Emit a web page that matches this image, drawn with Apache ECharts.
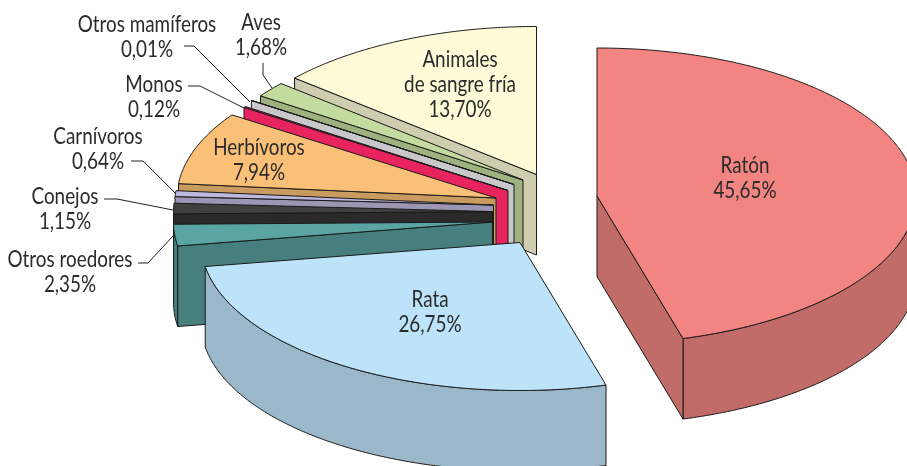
<!DOCTYPE html>
<html>
<head>
<meta charset="utf-8">
<style>html,body{margin:0;padding:0;background:#fff}#chart{width:907px;height:466px}</style>
<script src="https://cdn.jsdelivr.net/npm/echarts@6/dist/echarts.min.js"></script>
</head>
<body>
<div id="chart"></div>
<script>
// Share of animals by group, clockwise from 12 o'clock
const categories = ['Ratón', 'Rata', 'Otros roedores', 'Conejos', 'Carnívoros', 'Herbívoros', 'Monos', 'Otros mamíferos', 'Aves', 'Animales\nde sangre fría'];
const shares = [45.65, 26.75, 2.35, 1.15, 0.64, 7.94, 0.12, 0.01, 1.68, 13.70];

// Fill colours of the top and the walls of each wedge
const topColors = ['#F28482', '#BDE3FA', '#59A5A3', '#404040', '#BDB8DE', '#FBC077', '#E8245F', '#C8C8CB', '#C3DB9E', '#FFFAD7'];
const wallColors = ['#C16C68', '#9BB8CB', '#467F7E', '#2A2A2A', '#9C95B4', '#C99B5E', '#E8245F', '#C8C8CB', '#9EB27F', '#CFCCAF'];

// Exploded wedge apexes, painting rank (back to front) and label anchors
const apexes = [[597, 196], [520, 242.5], [492.5, 222], [492.5, 211.6], [493.5, 205], [496, 198], [508, 190.5], [514, 184.5], [523, 180], [536.5, 174.5]];
const paintRank = [9, 8, 7, 6, 5, 4, 3, 2, 1, 0];
const labelAnchors = [[745, 178], [430, 312], [70, 272], [65, 209], [98, 149], [259, 160], [154, 97], [147, 37], [261, 35], [460, 85]];
const leaders = [null, null,
  [[138, 263], [148, 263], [173, 236]],
  [[104, 199], [117, 199], [173, 210]],
  [[131, 161], [143, 161], [175, 193]],
  null,
  [[188, 86], [200, 86], [244, 108]],
  [[184, 46], [194, 46], [250, 102]],
  [[263, 63], [263, 75], [272, 88]],
  null];

const RX = 319, RY = 148, DEPTH = 80.5;
const total = shares.reduce((a, b) => a + b, 0);
const INK = '#1a1a1a';

function rim(c, deg, drop) {
  const r = deg * Math.PI / 180;
  return [c[0] + RX * Math.sin(r), c[1] - RY * Math.cos(r) + drop];
}
function arc(c, from, to, drop) {
  const n = Math.max(2, Math.ceil(Math.abs(to - from) / 0.5));
  const pts = [];
  for (let i = 0; i <= n; i++) pts.push(rim(c, from + (to - from) * i / n, drop));
  return pts;
}
function face(points, fill, z2) {
  return {
    type: 'polygon', z2,
    shape: { points },
    style: { fill, stroke: INK, lineWidth: 1, lineJoin: 'round' }
  };
}

function renderWedge(params, api) {
  const i = params.dataIndex;
  const value = api.value(1);
  const before = shares.slice(0, i).reduce((a, b) => a + b, 0);
  const a0 = before / total * 360;
  const a1 = a0 + value / total * 360;
  const c = apexes[i];
  const base = paintRank[i] * 10;
  const sinks = [c[0], c[1] + DEPTH];
  const children = [];

  // Curved wall: only the front half of the rim faces the viewer
  const f = Math.max(a0, 90), t = Math.min(a1, 270);
  if (t > f) {
    children.push(face(arc(c, f, t, 0).concat(arc(c, t, f, DEPTH)), wallColors[i], base));
  }
  // Flat walls along the two radial cuts, when they face forward
  if (Math.sin(a0 * Math.PI / 180) < 0) {
    children.push(face([c, rim(c, a0, 0), rim(c, a0, DEPTH), sinks], wallColors[i], base + 1));
  }
  if (Math.sin(a1 * Math.PI / 180) > 0) {
    children.push(face([c, rim(c, a1, 0), rim(c, a1, DEPTH), sinks], wallColors[i], base + 1));
  }
  // Top face
  children.push(face([c].concat(arc(c, a0, a1, 0)), topColors[i], base + 2));

  // Leader line and label
  if (leaders[i]) {
    children.push({
      type: 'polyline', z2: 200,
      shape: { points: leaders[i] },
      style: { fill: null, stroke: '#222', lineWidth: 1 }
    });
  }
  children.push({
    type: 'text', z2: 210,
    x: labelAnchors[i][0], y: labelAnchors[i][1],
    scaleX: 0.82,
    style: {
      text: categories[i] + '\n' + value.toFixed(2).replace('.', ',') + '%',
      font: '23px Lato',
      lineHeight: 25,
      fill: '#2b2b2b',
      align: 'center',
      verticalAlign: 'middle'
    }
  });
  return { type: 'group', children };
}

const chart = echarts.init(document.getElementById('chart'), null, { renderer: 'canvas' });
chart.setOption({
  animation: false,
  backgroundColor: '#ffffff',
  series: [{
    type: 'custom',
    coordinateSystem: 'none',
    renderItem: renderWedge,
    data: shares.map((v, i) => [i, v]),
    silent: true
  }]
});
</script>
</body>
</html>
